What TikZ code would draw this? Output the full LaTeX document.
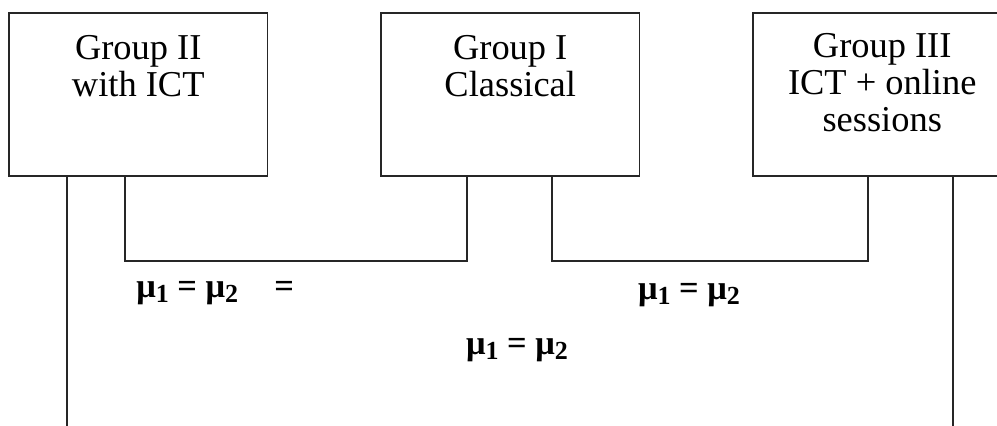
\documentclass[tikz,border=0pt]{standalone}
\usepackage{fontspec}
\setmainfont{Liberation Serif}
\usetikzlibrary{calc}
\newcommand\idx[1]{\raisebox{-0.3ex}{\fontsize{18.5}{18.5}\selectfont #1}}

\begin{document}
\begin{tikzpicture}[
  x=0.025cm, y=-0.025cm,
  box/.style={draw=black!85,line width=1.3pt,minimum width=6.46cm,minimum height=4.075cm,
    anchor=north west,inner sep=0pt,outer sep=0pt},
  grp/.style={anchor=north,align=center,inner sep=0pt,font=\fontsize{25.9}{26.3}\selectfont},
  eq/.style={inner sep=0pt,font=\fontsize{24.5}{27}\selectfont\bfseries},
  link/.style={draw=black!85,line width=1.3pt}
]
\clip (0,0) rectangle (997,426);
\fill[white] (0,0) rectangle (997,426);
\node[box] (g2) at (9,13) {};
\node[box] (g1) at (381,13) {};
\node[box] (g3) at (753,13) {};
\node[grp] (t2) at ($(g2.north)+(0,22)$) {Group II\\with ICT};
\node[grp] (t1) at ($(g1.north)+(0,22)$) {Group I\\Classical};
\node[grp] (t3) at ($(g3.north)+(0,20)$) {Group III\\ICT + online\\sessions};
\coordinate (bar) at (0,261);
\coordinate (floor) at (0,426);
\draw[link] ($(g2.south west)+(116,0)$) coordinate (a) -- (a |- bar) -| ($(g1.south west)+(86,0)$);
\draw[link] ($(g1.south west)+(171,0)$) coordinate (b) -- (b |- bar) -| ($(g3.south west)+(115,0)$);
\draw[link] ($(g2.south west)+(58,0)$) coordinate (c) -- (c |- floor);
\draw[link] ($(g3.south west)+(200,0)$) coordinate (d) -- (d |- floor);
\node[eq,anchor=west] (e21) at (136,293) {μ\idx{1} = μ\idx{2}\hspace{1.05em}=};
\node[eq] (e13) at (689,295) {μ\idx{1} = μ\idx{2}};
\node[eq] (e23) at (517,350) {μ\idx{1} = μ\idx{2}};
\end{tikzpicture}
\end{document}
